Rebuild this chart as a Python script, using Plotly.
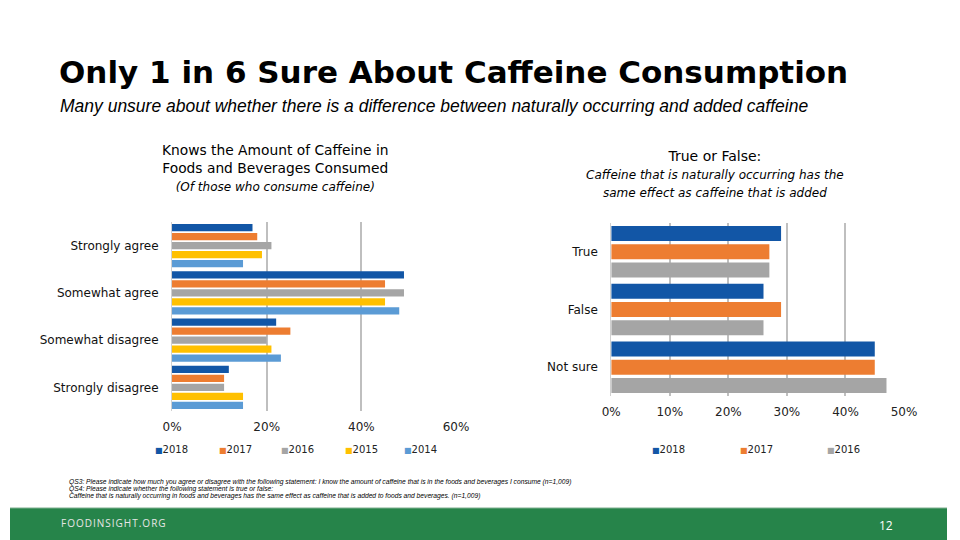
import plotly.graph_objects as go

# ---------------- data ----------------
left_categories = ["Strongly agree", "Somewhat agree", "Somewhat disagree", "Strongly disagree"]
left_years = ["2018", "2017", "2016", "2015", "2014"]
left_2018 = [17, 49, 22, 12]
left_2017 = [18, 45, 25, 11]
left_2016 = [21, 49, 20, 11]
left_2015 = [19, 45, 21, 15]
left_2014 = [15, 48, 23, 15]
left_values = [left_2018, left_2017, left_2016, left_2015, left_2014]
left_ticks = [0, 20, 40, 60]
left_ticklabels = ["0%", "20%", "40%", "60%"]

right_categories = ["True", "False", "Not sure"]
right_years = ["2018", "2017", "2016"]
right_2018 = [29, 26, 45]
right_2017 = [27, 29, 45]
right_2016 = [27, 26, 47]
right_values = [right_2018, right_2017, right_2016]
right_ticks = [0, 10, 20, 30, 40, 50]
right_ticklabels = ["0%", "10%", "20%", "30%", "40%", "50%"]

year_colors = {"2018": "#1256A6", "2017": "#ED7D31", "2016": "#A5A5A5",
               "2015": "#FFC000", "2014": "#5B9BD5"}

W, H = 960, 540
def px_x(p):
    return p / W
def px_y(p):
    return 1 - p / H

CHART_FONT = "DejaVu Sans"

fig = go.Figure()

for yr, vals in zip(left_years, left_values):
    fig.add_trace(go.Bar(y=left_categories, x=vals, orientation="h", name=yr,
                         marker=dict(color=year_colors[yr], line=dict(width=0)),
                         xaxis="x", yaxis="y", showlegend=False))
for yr, vals in zip(right_years, right_values):
    fig.add_trace(go.Bar(y=right_categories, x=vals, orientation="h", name=yr,
                         marker=dict(color=year_colors[yr], line=dict(width=0)),
                         xaxis="x2", yaxis="y2", showlegend=False))

axis_common = dict(showgrid=True, gridcolor="#BFBFBF", gridwidth=1.5,
                   zeroline=False, showline=False, ticks="",
                   tickfont=dict(family=CHART_FONT, size=12, color="#222"),
                   fixedrange=True)
yaxis_common = dict(showgrid=False, zeroline=False, showline=True, linecolor="#D0D0D0", linewidth=1,
                    ticks="", ticklabelstandoff=10, autorange="reversed",
                    tickfont=dict(family=CHART_FONT, size=12, color="#111"), fixedrange=True)

fig.update_layout(
    width=W, height=H, autosize=False, margin=dict(l=0, r=0, t=0, b=0, pad=0),
    paper_bgcolor="white", plot_bgcolor="white",
    barmode="group", bargap=0.05, bargroupgap=0.18,
    xaxis=dict(domain=[px_x(166), px_x(457)], range=[0, 60], tickvals=left_ticks,
               ticktext=left_ticklabels, anchor="y", ticklabelstandoff=7, **axis_common),
    yaxis=dict(domain=[px_y(411), px_y(222)], anchor="x", **yaxis_common),
    xaxis2=dict(domain=[px_x(616), px_x(916)], range=[0, 50], tickvals=right_ticks,
                ticktext=right_ticklabels, anchor="y2", ticklabelstandoff=7, **axis_common),
    yaxis2=dict(domain=[px_y(396), px_y(223)], anchor="x2", **yaxis_common),
    showlegend=False,
)

def paper_ann(text, xpx, ypx, xanchor="left", size=12, family=CHART_FONT, color="#000", align="left"):
    return dict(text=text, x=px_x(xpx), y=px_y(ypx), xref="paper", yref="paper",
                xanchor=xanchor, yanchor="middle", showarrow=False, align=align,
                font=dict(family=family, size=size, color=color))

ann = []
ann.append(paper_ann("<b>Only 1 in 6 Sure About Caffeine Consumption</b>", 48, 72, size=31))
ann.append(paper_ann("<i>Many unsure about whether there is a difference between naturally occurring and added caffeine</i>",
                     49, 106, family="Liberation Sans", size=17.5))
ann.append(paper_ann("Knows the Amount of Caffeine in<br>Foods and Beverages Consumed<br>"
                     "<i><span style='font-size:12px'>(Of those who consume caffeine)</span></i>",
                     272, 168, xanchor="center", size=13.8, align="center"))
ann.append(paper_ann("True or False:<br><i><span style='font-size:12px'>Caffeine that is naturally occurring has the<br>"
                     "same effect as caffeine that is added</span></i>",
                     722, 174, xanchor="center", size=14, align="center"))

def legend_item(label, xpx, ypx):
    return paper_ann(f"<span style='color:{year_colors[label]};font-size:8px'>■</span>{label}",
                     xpx, ypx, size=10, color="#222")

for label, xp in zip(left_years, [147, 212, 276, 341, 402]):
    ann.append(legend_item(label, xp, 449))
for label, xp in zip(right_years, [656, 746, 835]):
    ann.append(legend_item(label, xp, 449))

notes = [
    "QS3: Please indicate how much you agree or disagree with the following statement: I know the amount of caffeine that is in the foods and beverages I consume (n=1,009)",
    "QS4: Please indicate whether the following statement is true or false:",
    "Caffeine that is naturally occurring in foods and beverages has the same effect as caffeine that is added to foods and beverages. (n=1,009)",
]
for i, t in enumerate(notes):
    ann.append(paper_ann(f"<i>{t}</i>", 58, 482 + 7 * i, family="Liberation Sans", size=6.7))

hair = "\u200a"
ann.append(paper_ann(hair.join("FOODINSIGHT.ORG"), 50, 523, family="Open Sans", size=10, color="#E6E6E6"))
ann.append(paper_ann("12", 897, 525, xanchor="center", family="Open Sans", size=12, color="#FFFFFF"))

fig.update_layout(annotations=ann)
fig.add_shape(type="rect", xref="paper", yref="paper", x0=0, x1=1, y0=0, y1=px_y(508),
              fillcolor="#26844A", line=dict(width=0), layer="below")
fig.add_shape(type="line", xref="paper", yref="paper", x0=0, x1=1, y0=px_y(508), y1=px_y(508),
              line=dict(color="#7FAF8F", width=1))

post = (
    "document.body.style.margin='0';document.body.style.padding='0';"
    "document.body.style.overflow='hidden';"
    "var gd=document.getElementById('{plot_id}');"
    "Plotly.relayout(gd,{width:960,height:540,autosize:false});"
)
fig.write_html("out.html", config={"responsive": False, "displayModeBar": False},
               post_script=post)
